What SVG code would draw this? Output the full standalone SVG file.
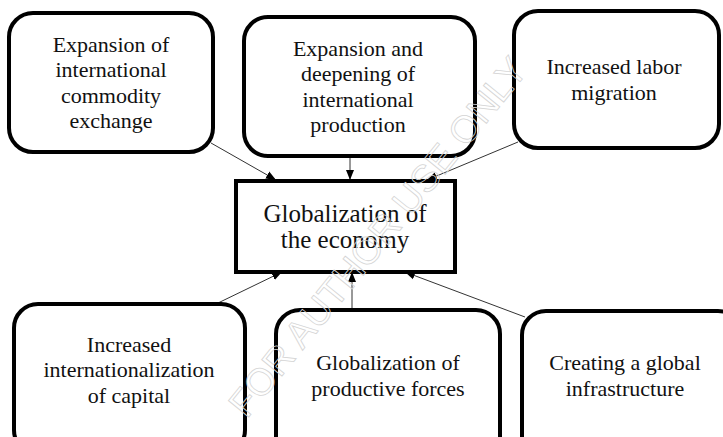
<svg xmlns="http://www.w3.org/2000/svg" width="723" height="437" viewBox="0 0 723 437">
<style>
.box{fill:#fff;stroke:#000;stroke-width:4}
.t{font-family:'Liberation Serif','Times New Roman',serif;font-size:22px;fill:#111;text-anchor:middle}
.tc{font-size:25px}
.c{stroke:#333;stroke-width:1;fill:none;marker-end:url(#ah)}
.wm{font-family:'Liberation Sans',Arial,sans-serif;font-size:38px;fill:none;stroke:#d4d4d4;stroke-width:0.8;text-anchor:middle}
</style>
<defs>
<marker id="ah" viewBox="0 0 10 10" refX="10" refY="5" markerWidth="10" markerHeight="10" markerUnits="userSpaceOnUse" orient="auto">
<path d="M0,1 L10,5 L0,9 Z" fill="#000"/>
</marker>
</defs>
<rect width="723" height="437" fill="#fff"/>
<g id="connectors">
<line class="c" x1="211" y1="143" x2="276" y2="180"/>
<line class="c" x1="350" y1="157" x2="350" y2="180"/>
<line class="c" x1="518" y1="142" x2="427" y2="180"/>
<line class="c" x1="218" y1="303" x2="282" y2="272"/>
<line class="c" x1="352" y1="309" x2="352" y2="272"/>
<line class="c" x1="525" y1="317" x2="405" y2="272"/>
</g>
<g id="n1"><rect class="box" x="9" y="13" width="204" height="139" rx="24"/>
<text class="t" x="111" y="52">Expansion of</text><text class="t" x="111" y="77">international</text><text class="t" x="111" y="103">commodity</text><text class="t" x="111" y="128">exchange</text></g>
<g id="n2"><rect class="box" x="244" y="17" width="231" height="139" rx="24"/>
<text class="t" x="358" y="56">Expansion and</text><text class="t" x="358" y="81">deepening of</text><text class="t" x="358" y="107">international</text><text class="t" x="358" y="132">production</text></g>
<g id="n3"><rect class="box" x="514" y="11" width="205" height="137" rx="24"/>
<text class="t" x="614" y="74">Increased labor</text><text class="t" x="614" y="100">migration</text></g>
<g id="center"><rect class="box" x="236" y="181" width="219" height="91"/>
<text class="t tc" x="345" y="222">Globalization of</text><text class="t tc" x="345" y="248">the economy</text></g>
<g id="n4"><rect class="box" x="14" y="304" width="231" height="150" rx="24"/>
<text class="t" x="129" y="352">Increased</text><text class="t" x="129" y="377">internationalization</text><text class="t" x="129" y="403">of capital</text></g>
<g id="n5"><rect class="box" x="276" y="310" width="224" height="150" rx="24"/>
<text class="t" x="388" y="370">Globalization of</text><text class="t" x="388" y="396">productive forces</text></g>
<g id="n6"><rect class="box" x="522" y="311" width="220" height="150" rx="24"/>
<text class="t" x="625" y="370">Creating a global</text><text class="t" x="625" y="396">infrastructure</text></g>
<text class="wm" transform="translate(388,245) rotate(-51)" x="0" y="0">FOR AUTHOR USE ONLY</text>
</svg>
